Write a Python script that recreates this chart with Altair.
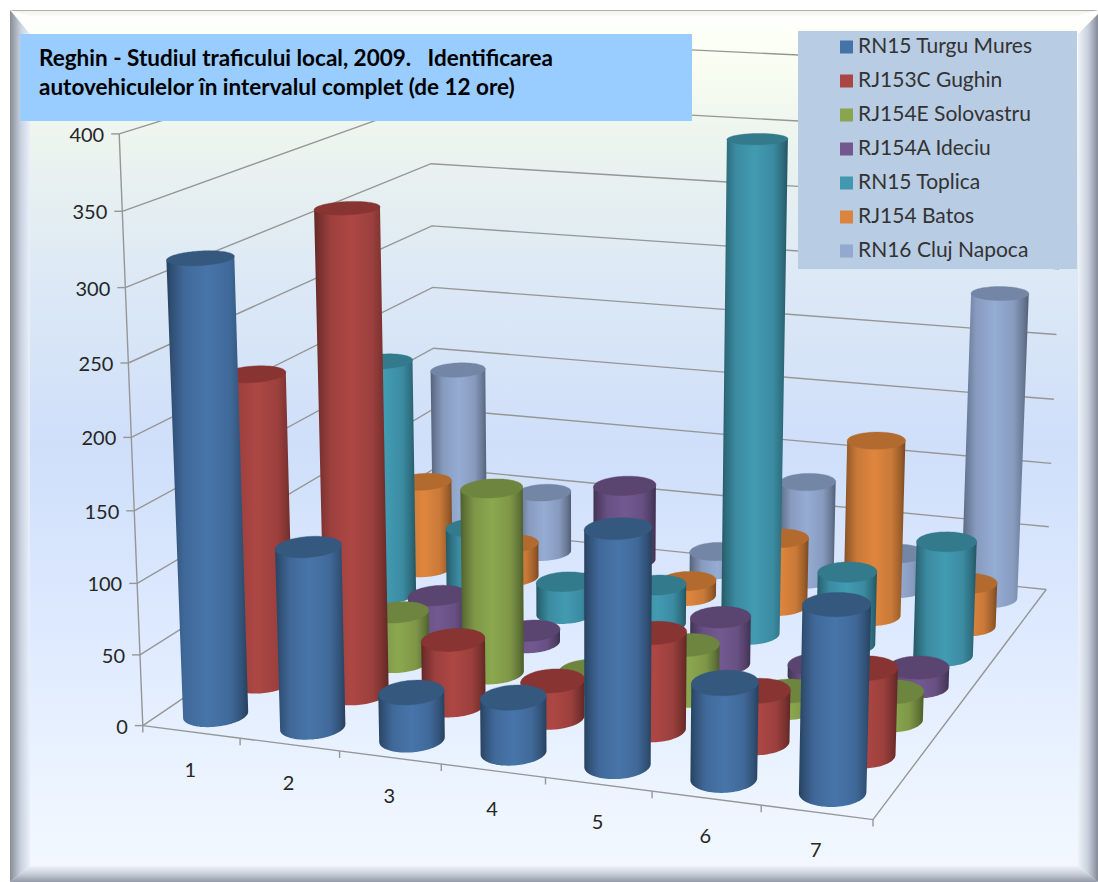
import math
import numpy as np
import altair as alt

W, H = 1098, 882

CATEGORIES = ["1", "2", "3", "4", "5", "6", "7"]
VALUE_TICKS = [0, 50, 100, 150, 200, 250, 300, 350, 400]
SERIES = ["RN15 Turgu Mures", "RJ153C Gughin", "RJ154E Solovastru", "RJ154A Ideciu",
          "RN15 Toplica", "RJ154 Batos", "RN16 Cluj Napoca"]
COLORS = ["#4673A7", "#AA4643", "#89A54E", "#71588F", "#4198AF", "#DB843D", "#93A9CF"]
TOPS = ["#35587F", "#873432", "#6E853F", "#5A4470", "#327A8C", "#B36A2F", "#7486A5"]

TURGU = [315, 126, 33, 38, 160, 65, 125]
GUGHIN = [221, 340, 47, 26, 68, 36, 60]
SOLOVASTRU = [None, 37, 135, 10, 37, 12, 20]
IDECIU = [None, 28, 9, None, 35, 8, 14]
TOPLICA = [182, 60, 25, 30, 365, 55, 85]
BATOS = [70, 27, 5, 12, 53, 135, 33]
CLUJ = [143, 49, 61, 15, 78, 28, 236]
ROWS = [TURGU, GUGHIN, SOLOVASTRU, IDECIU, TOPLICA, BATOS, CLUJ]
# The tall bar at category 3 in the rear row carries the Ideciu colour and is a little stouter.
ROW_COLOR_OVERRIDE = {(6, 2): 3}
ROW_GIRTH_OVERRIDE = {(6, 2): (1.14, -0.06)}

TITLE_LINES = ["Reghin - Studiul traficului local, 2009.\u00a0\u00a0\u00a0Identificarea",
               "autovehiculelor în intervalul complet (de 12 ore)"]

# Camera: world (category, row, hundreds of vehicles) to page pixels.
CAMERA_PAIRS = [
    ((0, 0, 0), (142, 724)), ((0, 0, 1), (137.5, 583)), ((0, 0, 2), (131.5, 437)), ((0, 0, 4), (119, 135)),
    ((7, 0, 0), (873.5, 821)),
    ((7, 7, 0), (1046, 588)), ((7, 7, 1), (1051, 463)), ((7, 7, 2), (1056, 335)), ((7, 7, 4), (1068, 68)),
    ((0, 7, 0), (437, 530)), ((0, 7, 1.5), (433, 347)), ((0, 7, 3), (431, 163)),
]
rows_a = []
for (X, Y, Z), (u, v) in CAMERA_PAIRS:
    rows_a.append([X, Y, Z, 1, 0, 0, 0, 0, -u * X, -u * Y, -u * Z, -u])
    rows_a.append([0, 0, 0, 0, X, Y, Z, 1, -v * X, -v * Y, -v * Z, -v])
CAM = np.linalg.svd(np.array(rows_a, dtype=float))[2][-1].reshape(3, 4)


def project(X, Y, Z):
    p = CAM @ np.array([X, Y, Z, 1.0])
    return [round(float(p[0] / p[2]), 1), round(float(p[1] / p[2]), 1)]


def shade(hex_color, f):
    c = [int(hex_color[i:i + 2], 16) for i in (1, 3, 5)]
    return "#%02x%02x%02x" % tuple(min(255, int(x * f)) for x in c)


def polygon(points, color="x"):
    ring = points + [points[0]]
    return {"type": "Feature", "geometry": {"type": "Polygon", "coordinates": [ring]},
            "properties": {"c": color}}


def polyline(points):
    return {"type": "Feature", "geometry": {"type": "LineString", "coordinates": points}, "properties": {}}


IDENTITY = dict(type="identity", scale=1, translate=[0, 0])
RADIUS_X = 0.29
RADIUS_Y = 0.35
SAMPLES = 96
# Lighting across a cylinder's width, as (position, brightness).
BODY_LIGHT = [(0, 0.58), (0.08, 0.72), (0.22, 0.92), (0.5, 1.02), (0.78, 0.92), (0.92, 0.72), (1, 0.56)]


def shapes(features):
    return alt.Chart(alt.Data(values=features))


def cylinder(cx, cy, value, base, top, girth=1.0):
    z = value / 100.0
    rx, ry = RADIUS_X * girth, RADIUS_Y * girth
    angles = [2 * math.pi * k / SAMPLES for k in range(SAMPLES)]
    bottom = [project(cx + rx * math.cos(a), cy + ry * math.sin(a), 0) for a in angles]
    upper = [project(cx + rx * math.cos(a), cy + ry * math.sin(a), z) for a in angles]
    left = min(range(SAMPLES), key=lambda k: bottom[k][0])
    right = max(range(SAMPLES), key=lambda k: bottom[k][0])
    arc_a = [(left + k) % SAMPLES for k in range((right - left) % SAMPLES + 1)]
    arc_b = [(left - k) % SAMPLES for k in range((left - right) % SAMPLES + 1)]
    mean_y = lambda arc: sum(bottom[k][1] for k in arc) / len(arc)
    arc = arc_a if mean_y(arc_a) > mean_y(arc_b) else arc_b
    outline = [bottom[k] for k in arc] + [upper[arc[-1]], upper[arc[0]]]
    glow = alt.Gradient(gradient="linear", x1=0, y1=0, x2=1, y2=0,
                        stops=[alt.GradientStop(offset=o, color=shade(base, f)) for o, f in BODY_LIGHT])
    body_mark = shapes([polygon(outline)]).mark_geoshape(fill=glow, stroke=None).project(**IDENTITY)
    top_mark = shapes([polygon(upper)]).mark_geoshape(fill=top, stroke=top, strokeWidth=0.4).project(**IDENTITY)
    return [body_mark, top_mark]


bars = []
for row in range(len(ROWS) - 1, -1, -1):
    for cat, value in enumerate(ROWS[row]):
        if value is None:
            continue
        k = ROW_COLOR_OVERRIDE.get((row, cat), row)
        girth, shift = ROW_GIRTH_OVERRIDE.get((row, cat), (1.0, 0.0))
        bars.extend(cylinder(cat + 0.5 + shift, row + 0.5, value, COLORS[k], TOPS[k], girth))

# Walls and floor
grid = []
for v in VALUE_TICKS:
    z = v / 100.0
    grid.append(polyline([project(0, 0, z), project(0, 7, z), project(7, 7, z)]))
grid.append(polyline([project(0, 0, 0), project(0, 0, 4)]))
grid.append(polyline([project(0, 0, 0), project(7, 0, 0), project(7, 7, 0)]))
for v in VALUE_TICKS:
    a = project(0, 0, v / 100.0)
    grid.append(polyline([[a[0] - 8, a[1]], a]))
for c in range(8):
    a = project(c, 0, 0)
    grid.append(polyline([a, [a[0], a[1] + 7]]))

pixel_x = alt.Scale(domain=[0, W], nice=False, zero=False)
pixel_y = alt.Scale(domain=[H, 0], nice=False, zero=False)
px = lambda f: alt.X(f, type="quantitative", scale=pixel_x, axis=None)
py = lambda f: alt.Y(f, type="quantitative", scale=pixel_y, axis=None)


def box(x0, y0, x1, y1, fill):
    return alt.Chart(alt.Data(values=[{"a": x0, "b": y0, "c": x1, "d": y1}])).mark_rect(fill=fill).encode(
        x=px("a"), y=py("b"), x2="c:Q", y2="d:Q")


def bevel(points, stops, x2=0, y2=0):
    grad = alt.Gradient(gradient="linear", stops=[alt.GradientStop(offset=o, color=c) for o, c in stops],
                        x1=0, y1=0, x2=x2, y2=y2)
    return shapes([polygon(points)]).mark_geoshape(fill=grad, stroke=None).project(**IDENTITY)


def labels(rows, **kw):
    return alt.Chart(alt.Data(values=rows)).mark_text(**kw).encode(x=px("x"), y=py("y"), text="t:N")


panel = box(10, 10, W, H, alt.Gradient(
    gradient="linear", x1=0, y1=0, x2=0, y2=1,
    stops=[alt.GradientStop(offset=o, color=c) for o, c in [
        (0, "#ffffff"), (0.05, "#fbfff2"), (0.14, "#edf5ee"), (0.3, "#dde9f5"),
        (0.5, "#cfdffa"), (0.72, "#deeaff"), (0.93, "#eff6ff"), (1, "#f4f8ff")]]))

edges = [
    bevel([[10, 10], [W, 10], [W - 20, 16], [30, 16]], [(0, "#8d8d8d"), (0.25, "#f4f4ee"), (1, "#fcfcf6")], y2=1),
    bevel([[10, 10], [30, 34], [30, 866], [10, H]], [(0, "#878d96"), (0.55, "#c9d3e0"), (1, "#e8f0fb")], x2=1),
    bevel([[W, 14], [1078, 34], [1078, 866], [W, H]], [(0, "#eef3f8"), (0.5, "#c7d0dc"), (1, "#848b96")], x2=1),
    bevel([[10, H], [30, 866], [1078, 866], [W, H]], [(0, "#edf2fa"), (0.5, "#c9ced8"), (1, "#9299a6")], y2=1),
]

grid_layer = shapes(grid).mark_geoshape(filled=False, stroke="#969696", strokeWidth=1.4).project(**IDENTITY)

value_labels = labels(
    [{"x": project(0, 0, v / 100.0)[0] - 15, "y": project(0, 0, v / 100.0)[1] + 2, "t": str(v)} for v in VALUE_TICKS],
    align="right", baseline="middle", font="Lato", fontSize=20, color="#262626")
cat_labels = labels(
    [{"x": project(i + 0.5, 0, 0)[0] - 1, "y": project(i + 0.5, 0, 0)[1] + 39, "t": c} for i, c in enumerate(CATEGORIES)],
    align="center", baseline="middle", font="Lato", fontSize=20, color="#262626")

title_box = box(20, 34, 692, 121, "#99CCFF")
title_text = labels([{"x": 39, "y": 59 + 29 * i, "t": t} for i, t in enumerate(TITLE_LINES)],
                    align="left", baseline="middle", font="Lato", fontSize=22.5, fontWeight="bold", color="#000000")

legend_box = box(798, 31, 1077, 269, "#B8CCE4")
swatches = alt.Chart(alt.Data(values=[
    {"a": 840, "b": 40.5 + 34 * i, "c": 853, "d": 53.5 + 34 * i, "k": COLORS[i]} for i in range(7)
])).mark_rect().encode(x=px("a"), y=py("b"), x2="c:Q", y2="d:Q", fill=alt.Fill("k:N", scale=None))
legend_text = labels([{"x": 858, "y": 47 + 34 * i, "t": s} for i, s in enumerate(SERIES)],
                     align="left", baseline="middle", font="Lato", fontSize=21, color="#333333")

chart = alt.layer(panel, *edges, grid_layer, *bars, value_labels, cat_labels,
                  title_box, title_text, legend_box, swatches, legend_text).properties(
    width=W, height=H, padding=0, autosize=alt.AutoSizeParams(type="none"), background="#ffffff"
).configure_view(stroke=None)

chart.save("out.html", embed_options={"renderer": "svg", "actions": False})
